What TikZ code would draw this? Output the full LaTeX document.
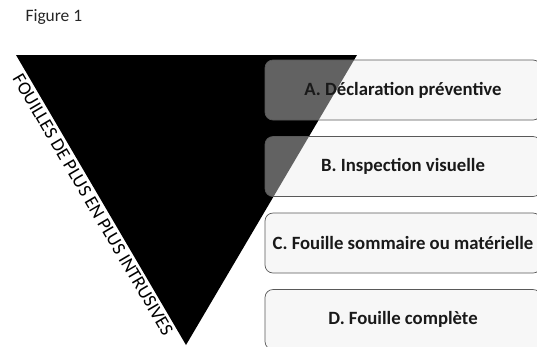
\documentclass[tikz,border=0pt]{standalone}
\usepackage{fontspec}
\setmainfont{Carlito}
\usetikzlibrary{calc}
\begin{document}
\begin{tikzpicture}[x=1bp,y=-1bp,
  stagebox/.style={draw=black!65, line width=0.7bp, rounded corners=8bp,
    fill=black!8, fill opacity=0.42, text opacity=1, text=black!90,
    minimum width=276bp, minimum height=60bp, inner sep=0pt,
    font=\bfseries\fontsize{18.8}{20}\selectfont},
  sidelabel/.style={font=\fontsize{18.8}{20}\selectfont, inner sep=0pt},
]
\clip (0,0) rectangle (537,346);
\node[anchor=west, font=\fontsize{17.5}{19}\selectfont, text=black!85] (fig) at (22,17) {Figure 1};
\coordinate (tl) at (16,55);
\coordinate (tr) at (357,55);
\coordinate (ap) at (186,345);
\fill[black] (tl) -- (tr) -- (ap) -- cycle;
\node[sidelabel, rotate=-59.6, anchor=north] (lab) at ($(tl)!0.5!(ap)+(-2.5,1.5)$) {FOUILLES DE PLUS EN PLUS INTRUSIVES};
\node[stagebox] (a) at (403,90) {A. Déclaration préventive};
\node[stagebox] (b) at (403,166.5) {B. Inspection visuelle};
\node[stagebox] (c) at (403,243) {C. Fouille sommaire ou matérielle};
\node[stagebox] (d) at (403,319.5) {D. Fouille complète};
\end{tikzpicture}
\end{document}
